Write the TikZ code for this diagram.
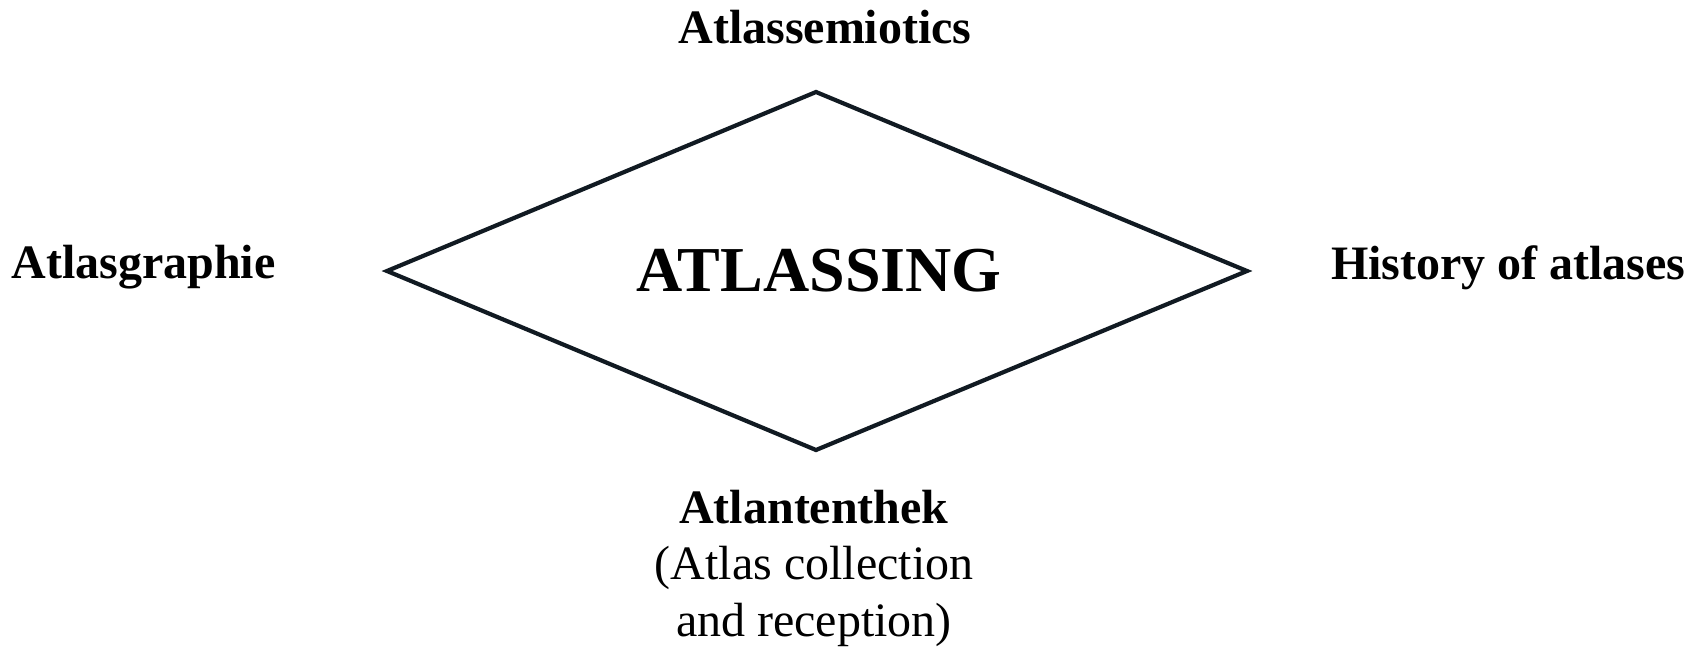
\documentclass[tikz,border=0pt]{standalone}
\usepackage{fontspec}
\setmainfont{Liberation Serif}
\usepackage{tikz}
\usetikzlibrary{positioning}
\definecolor{inkline}{HTML}{111A22}

\begin{document}
\begin{tikzpicture}[x=0.5pt, y=-0.5pt,
    label text/.style={font=\fontsize{24}{28.5}\selectfont\bfseries, inner sep=0pt},
    core text/.style={font=\fontsize{32}{38}\selectfont\bfseries, inner sep=0pt}
  ]
  \useasboundingbox (0,0) rectangle (1704,648);

  % corners of the diamond
  \coordinate (top) at (816,92);
  \coordinate (left) at (387,271);
  \coordinate (right) at (1247,271);
  \coordinate (bottom) at (816,450);

  \draw[inkline, line width=2.1pt, line join=miter]
    (top) -- (right) -- (bottom) -- (left) -- cycle;

  \node[core text, anchor=base] (atlassing) at (819,291) {ATLASSING};

  \node[label text, anchor=base] (semiotics) at (825,43) {Atlassemiotics};
  \node[label text, anchor=base west] (graphie) at (11,278) {Atlasgraphie};
  \node[label text, anchor=base east] (history) at (1686,279) {History of atlases};
  % base of a multi-line node is its last line
  \node[label text, anchor=base, align=center, font=\fontsize{24}{28.2}\selectfont]
    (thek) at (814,636) {\textbf{Atlantenthek}\\(Atlas collection\\and reception)};
\end{tikzpicture}
\end{document}
